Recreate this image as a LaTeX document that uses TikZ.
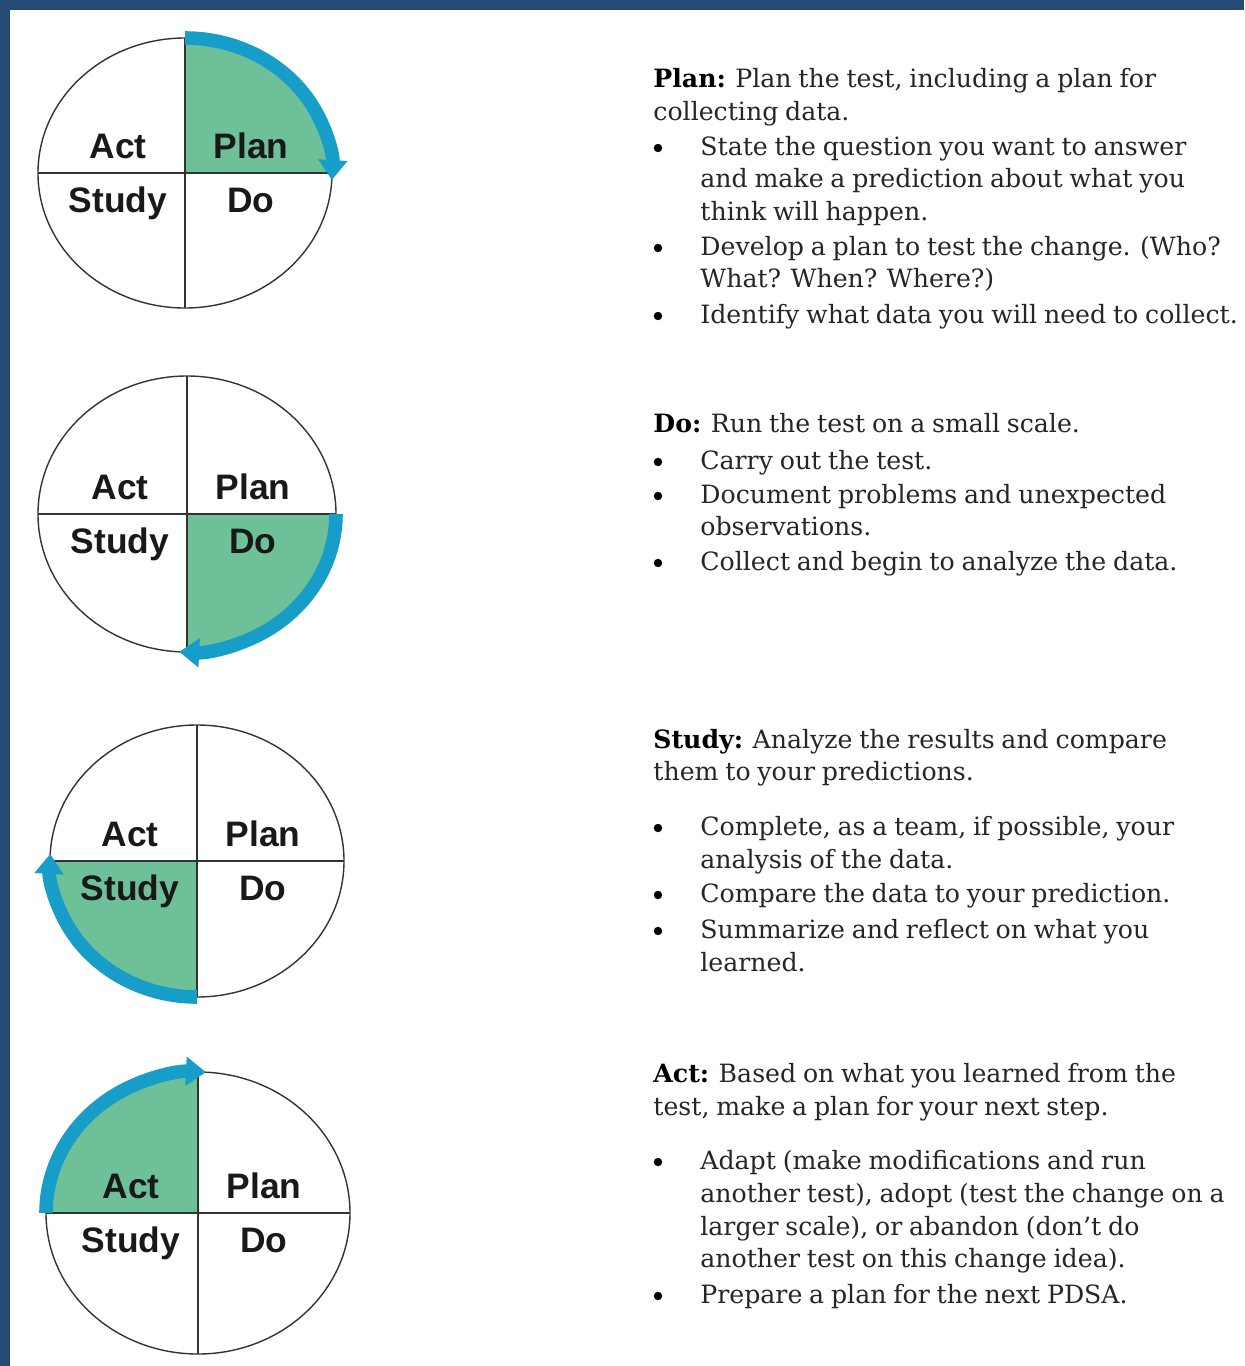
\documentclass[tikz,border=0pt]{standalone}
\usepackage{fontspec}
\setmainfont{DejaVu Serif}[WordSpace=0.85]
\newfontfamily\labelsans{Liberation Sans}
\usepackage{tikz}
\usetikzlibrary{arrows.meta}

\definecolor{frameblue}{RGB}{38,75,115}
\definecolor{pdsagreen}{RGB}{110,192,152}
\definecolor{pdsablue}{RGB}{22,158,200}
\definecolor{bodygray}{RGB}{38,38,38}

\newcommand{\stephead}[1]{{\color{black}\bfseries #1}}

\tikzset{
	wheel/.style={draw=black!80, line width=0.7pt},
	quad/.style={fill=pdsagreen},
	cyc/.style={draw=pdsablue, line width=6.8pt, -{Triangle[length=10pt,width=14pt]}},
	seg/.style={anchor=base, inner sep=0pt, text=black!90, font=\labelsans\bfseries\fontsize{17.7}{20}\selectfont},
	txt/.style={anchor=base west, inner sep=0pt, text=bodygray, font=\fontsize{12.6}{15}\selectfont},
	dot/.style={circle, fill=black, inner sep=0pt, minimum size=4.2pt}
}

\begin{document}
\begin{tikzpicture}[x=0.5pt, y=0.5pt]
	\useasboundingbox (0,0) rectangle (1244,-1366);
	\fill[white] (0,0) rectangle (1244,-1366);
	\fill[frameblue] (0,0) rectangle (1244,-10);
	\fill[frameblue] (0,0) rectangle (10,-1366);

	% the four wheels: centre, radii, angle where the lit quadrant starts
	\foreach \cx/\cy/\rx/\ry/\a/\n in {185/173/147/135/90/plan, 187/514/149/138/0/do, 197/861/147/136/-90/study, 198/1213/152/141/180/act}{
		\coordinate (c\n) at (\cx,-\cy);
		\fill[quad] (c\n) -- ++({\rx*cos(\a)},{\ry*sin(\a)}) arc[start angle=\a, end angle=\a-90, x radius=\rx, y radius=\ry] -- cycle;
		\draw[wheel] (c\n) ellipse[x radius=\rx, y radius=\ry];
		\draw[wheel] (\cx,-\cy+\ry) -- (\cx,-\cy-\ry);
		\draw[wheel] (\cx-\rx,-\cy) -- (\cx+\rx,-\cy);
		\draw[cyc] (c\n) ++({\rx*cos(\a)},{\ry*sin(\a)}) arc[start angle=\a, end angle=\a-93, x radius=\rx, y radius=\ry];

		\node[seg] (\n-act) at (\cx-67,-\cy+15) {Act};
		\node[seg] (\n-plan) at (\cx+66,-\cy+15) {Plan};
		\node[seg] (\n-study) at (\cx-67,-\cy-39) {Study};
		\node[seg] (\n-do) at (\cx+66,-\cy-39) {Do};
	}

	% Plan
	\node[txt] (plan1) at (653,-87) {\stephead{Plan:} Plan the test, including a plan for};
	\node[txt] (plan2) at (653,-120) {collecting data.};
	\node[dot] (plan3b) at (658,-148) {};
	\node[txt] (plan3) at (700,-155) {State the question you want to answer};
	\node[txt] (plan4) at (700,-187) {and make a prediction about what you};
	\node[txt] (plan5) at (700,-220) {think will happen.};
	\node[dot] (plan6b) at (658,-248) {};
	\node[txt] (plan6) at (700,-255) {Develop a plan to test the change. (Who?};
	\node[txt] (plan7) at (700,-287) {What? When? Where?)};
	\node[dot] (plan8b) at (658,-316) {};
	\node[txt] (plan8) at (700,-323) {Identify what data you will need to collect.};

	% Do
	\node[txt] (do1) at (653,-432) {\stephead{Do:} Run the test on a small scale.};
	\node[dot] (do2b) at (658,-462) {};
	\node[txt] (do2) at (700,-469) {Carry out the test.};
	\node[dot] (do3b) at (658,-496) {};
	\node[txt] (do3) at (700,-503) {Document problems and unexpected};
	\node[txt] (do4) at (700,-535) {observations.};
	\node[dot] (do5b) at (658,-563) {};
	\node[txt] (do5) at (700,-570) {Collect and begin to analyze the data.};

	% Study
	\node[txt] (study1) at (653,-748) {\stephead{Study:} Analyze the results and compare};
	\node[txt] (study2) at (653,-780) {them to your predictions.};
	\node[dot] (study3b) at (658,-828) {};
	\node[txt] (study3) at (700,-835) {Complete, as a team, if possible, your};
	\node[txt] (study4) at (700,-868) {analysis of the data.};
	\node[dot] (study5b) at (658,-895) {};
	\node[txt] (study5) at (700,-902) {Compare the data to your prediction.};
	\node[dot] (study6b) at (658,-931) {};
	\node[txt] (study6) at (700,-938) {Summarize and reflect on what you};
	\node[txt] (study7) at (700,-971) {learned.};

	% Act
	\node[txt] (act1) at (653,-1082) {\stephead{Act:} Based on what you learned from the};
	\node[txt] (act2) at (653,-1115) {test, make a plan for your next step.};
	\node[dot] (act3b) at (658,-1162) {};
	\node[txt] (act3) at (700,-1169) {Adapt (make modifications and run};
	\node[txt] (act4) at (700,-1202) {another test), adopt (test the change on a};
	\node[txt] (act5) at (700,-1235) {larger scale), or abandon (don’t do};
	\node[txt] (act6) at (700,-1267) {another test on this change idea).};
	\node[dot] (act7b) at (658,-1296) {};
	\node[txt] (act7) at (700,-1303) {Prepare a plan for the next PDSA.};
\end{tikzpicture}
\end{document}
